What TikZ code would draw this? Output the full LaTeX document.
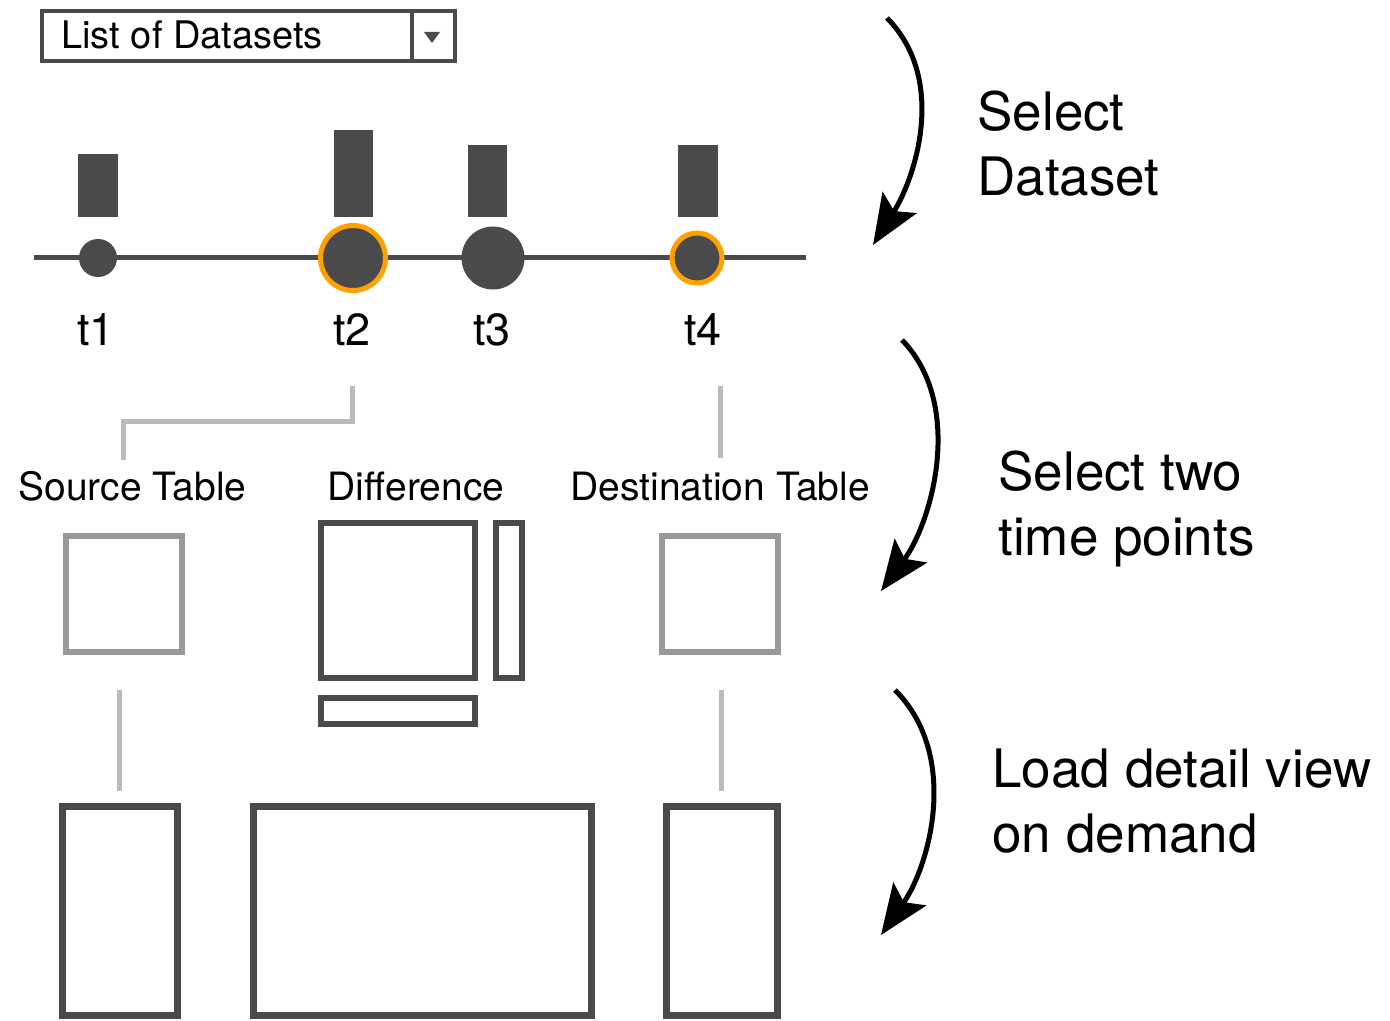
\documentclass[tikz,border=0pt]{standalone}
\usepackage{fontspec}
\setmainfont{TeX Gyre Heros}
\usetikzlibrary{arrows.meta}
\definecolor{dk}{HTML}{4A4A4A}
\definecolor{lite}{HTML}{BBBBBB}
\definecolor{mid}{HTML}{999999}
\definecolor{ring}{HTML}{FFA200}
\begin{document}
\begin{tikzpicture}[x=0.5pt,y=-0.5pt]

\tikzstyle{lbl} = [inner sep=0, anchor=base, font=\fontsize{19.5}{23}\selectfont]
\tikzstyle{tl} = [inner sep=0, anchor=base, font=\fontsize{22.5}{27}\selectfont]
\tikzstyle{pt} = [circle, fill=dk, inner sep=0]
\tikzstyle{sel} = [pt, draw=ring, line width=2.5pt]
\tikzstyle{tbl} = [rectangle, draw=mid, line width=3pt, inner sep=0]
\tikzstyle{dif} = [rectangle, draw=dk, line width=3pt, inner sep=0]
\tikzstyle{view} = [rectangle, draw=dk, line width=3.5pt, inner sep=0]
\tikzstyle{link} = [draw=lite, line width=2.5pt]
\tikzstyle{flow} = [line width=2.5pt, -{Stealth[length=25pt,width=20pt,inset=5pt]}]
\tikzstyle{note} = [inner sep=0, anchor=north west, align=left, font=\fontsize{26.5}{32.5}\selectfont]

\useasboundingbox (0,0) rectangle (1390,1021);

% dataset chooser
\node (dd) [draw=dk, line width=2pt, minimum width=206.5pt, minimum height=25pt, inner sep=0] at (248.5,36) {};
\node (ddtext) [lbl, anchor=base west, font=\fontsize{19}{23}\selectfont] at (61,48.5) {List of Datasets};
\draw[dk, line width=2pt] (412,11) -- (412,61);
\fill[dk] (424,32) -- (440,32) -- (432,43) -- cycle;

% time line
\fill[dk] (78,154) rectangle (118,217);
\fill[dk] (334,130) rectangle (373,217);
\fill[dk] (468,145) rectangle (507,217);
\fill[dk] (678,145) rectangle (718,217);
\draw[dk, line width=2.5pt] (34,258) -- (806,258);
\node (c1) [pt, minimum size=19pt] at (98,258) {};
\node (c2) [sel, minimum size=32.5pt] at (353,258) {};
\node (c3) [pt, minimum size=31.5pt] at (493,258) {};
\node (c4) [sel, minimum size=25pt] at (697,258) {};
\node (t1) [tl] at (96,345) {t1};
\node (t2) [tl] at (352,345) {t2};
\node (t3) [tl] at (492,345) {t3};
\node (t4) [tl] at (703,345) {t4};

% tables
\node (src) [lbl] at (132.5,500) {Source Table};
\node (diff) [lbl] at (416,500) {Difference};
\node (dst) [lbl] at (720,500) {Destination Table};
\coordinate (srcin) at (123,460);
\coordinate (dstin) at (720,458);
\draw[link] ([yshift=-20pt]t2.south) -- ++(0,36) -| (srcin);
\draw[link] ([yshift=-20pt]t4.south -| dstin) -- (dstin);

\node (srcbox) [tbl, minimum width=58pt, minimum height=58pt] at (124,594) {};
\node (dstbox) [tbl, minimum width=58pt, minimum height=58pt] at (720,594) {};
\node (diffmain) [dif, minimum width=77pt, minimum height=77.5pt] at (398,600.5) {};
\node (diffside) [dif, minimum width=13pt, minimum height=77.5pt] at (509,600.5) {};
\node (diffbot) [dif, minimum width=77pt, minimum height=13pt] at (398,711) {};

% detail views
\node (srcview) [view, minimum width=57.5pt, minimum height=104.5pt] at (119.5,910.5) {};
\node (diffview) [view, minimum width=169pt, minimum height=104.5pt] at (422,910.5) {};
\node (dstview) [view, minimum width=55.5pt, minimum height=104.5pt] at (721.5,910.5) {};
\draw[link] ([yshift=-17.5pt]srcbox.south -| srcview.north) -- ([yshift=6pt]srcview.north);
\draw[link] ([yshift=-17.5pt]dstbox.south -| dstview.north) -- ([yshift=6pt]dstview.north);

% steps
\coordinate (a1s) at (887,18);
\coordinate (a1e) at (873,245);
\coordinate (a2s) at (902,340);
\coordinate (a2e) at (881,591);
\coordinate (a3s) at (895,690);
\coordinate (a3e) at (881,935);
\draw[flow] (a1s) .. controls (948,80) and (915,178) .. (a1e);
\draw[flow] (a2s) .. controls (965,405) and (932,522) .. (a2e);
\draw[flow] (a3s) .. controls (960,755) and (930,865) .. (a3e);
\node (n1) [note] at (977,91) {Select\\Dataset};
\node (n2) [note] at (998,451) {Select two\\time points};
\node (n3) [note] at (992,748) {Load detail view\\on demand};

\end{tikzpicture}
\end{document}
